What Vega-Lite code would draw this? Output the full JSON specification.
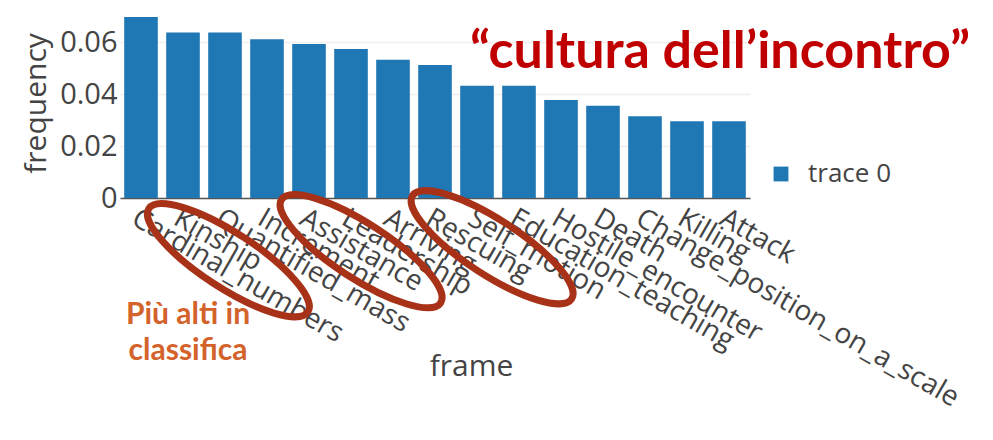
{
  "$schema": "https://vega.github.io/schema/vega-lite/v6.json",
  "width": 630,
  "height": 190,
  "autosize": {"type": "none"},
  "padding": {"left": 120, "top": 8, "right": 243, "bottom": 242},
  "background": "white",
  "config": {"font": "Open Sans", "view": {"stroke": null}},
  "datasets": {
    "bars": [
      {"frame": "Cardinal_numbers", "frequency": 0.0698, "series": "trace 0"},
      {"frame": "Kinship", "frequency": 0.0638, "series": "trace 0"},
      {"frame": "Quantified_mass", "frequency": 0.0638, "series": "trace 0"},
      {"frame": "Increment", "frequency": 0.0612, "series": "trace 0"},
      {"frame": "Assistance", "frequency": 0.0594, "series": "trace 0"},
      {"frame": "Leadership", "frequency": 0.0575, "series": "trace 0"},
      {"frame": "Arriving", "frequency": 0.0533, "series": "trace 0"},
      {"frame": "Rescuing", "frequency": 0.0513, "series": "trace 0"},
      {"frame": "Self_motion", "frequency": 0.0433, "series": "trace 0"},
      {"frame": "Education_teaching", "frequency": 0.0433, "series": "trace 0"},
      {"frame": "Hostile_encounter", "frequency": 0.0378, "series": "trace 0"},
      {"frame": "Death", "frequency": 0.0356, "series": "trace 0"},
      {"frame": "Change_position_on_a_scale", "frequency": 0.0315, "series": "trace 0"},
      {"frame": "Killing", "frequency": 0.0296, "series": "trace 0"},
      {"frame": "Attack", "frequency": 0.0296, "series": "trace 0"}
    ],
    "rings": [
      {"ring": 1, "frame": "Quantified_mass", "frequency": -0.024},
      {"ring": 2, "frame": "Leadership", "frequency": -0.0205},
      {"ring": 3, "frame": "Self_motion", "frequency": -0.019}
    ],
    "headline": [
      {"frame": "Killing", "frequency": 0.0563, "note": "“cultura dell’incontro”"}
    ],
    "side": [
      {"frame": "Kinship", "frequency": -0.0452, "note": "Più alti in\nclassifica"}
    ]
  },
  "layer": [
    {
      "data": {"name": "bars"},
      "mark": {"type": "bar"},
      "encoding": {
        "x": {
          "field": "frame",
          "type": "nominal",
          "sort": null,
          "scale": {"paddingInner": 0.2, "paddingOuter": 0.1},
          "axis": {
            "title": "frame",
            "titleFontSize": 30,
            "titleFontWeight": "normal",
            "titleColor": "#444",
            "titleX": 351,
            "titleY": 177,
            "titleBaseline": "alphabetic",
            "titleAlign": "center",
            "labelAngle": 30,
            "labelAlign": "left",
            "labelBaseline": "top",
            "labelFontSize": 28,
            "labelColor": "#444",
            "labelPadding": 6,
            "labelLimit": 600,
            "labelOverlap": false,
            "ticks": false,
            "domainColor": "#555",
            "domainWidth": 1.5
          }
        },
        "y": {
          "field": "frequency",
          "type": "quantitative",
          "scale": {"domain": [0, 0.0733], "nice": false},
          "axis": {
            "title": "frequency",
            "titleFontSize": 30,
            "titleFontWeight": "normal",
            "titleColor": "#444",
            "titlePadding": 8,
            "values": [0, 0.02, 0.04, 0.06],
            "labelExpr": "datum.value == 0 ? '0' : format(datum.value, '.2f')",
            "labelFontSize": 29,
            "labelColor": "#444",
            "labelPadding": 3,
            "ticks": false,
            "domain": false,
            "gridColor": "#eeeeee",
            "gridWidth": 1.5
          }
        },
        "color": {
          "field": "series",
          "type": "nominal",
          "scale": {"range": ["#1f77b4"]},
          "legend": {
            "title": null,
            "orient": "none",
            "legendX": 648,
            "legendY": 153,
            "symbolType": "square",
            "symbolSize": 220,
            "symbolStrokeWidth": 0,
            "labelFontSize": 26,
            "labelColor": "#444",
            "labelOffset": 14
          }
        }
      }
    },
    {
      "data": {"name": "rings"},
      "transform": [{"filter": "datum.ring == 1"}],
      "mark": {
        "type": "point",
        "shape": "M -1 0 A 1 0.29 0 1 0 1 0 A 1 0.29 0 1 0 -1 0 Z",
        "size": 36000,
        "angle": 33,
        "filled": false,
        "stroke": "#a83218",
        "strokeWidth": 7,
        "opacity": 1
      },
      "encoding": {
        "x": {"field": "frame", "type": "nominal", "sort": null, "bandPosition": 0.6},
        "y": {"field": "frequency", "type": "quantitative"}
      }
    },
    {
      "data": {"name": "rings"},
      "transform": [{"filter": "datum.ring == 2"}],
      "mark": {
        "type": "point",
        "shape": "M -1 0 A 1 0.29 0 1 0 1 0 A 1 0.29 0 1 0 -1 0 Z",
        "size": 36000,
        "angle": 33,
        "filled": false,
        "stroke": "#a83218",
        "strokeWidth": 7,
        "opacity": 1
      },
      "encoding": {
        "x": {"field": "frame", "type": "nominal", "sort": null, "bandPosition": 0.8},
        "y": {"field": "frequency", "type": "quantitative"}
      }
    },
    {
      "data": {"name": "rings"},
      "transform": [{"filter": "datum.ring == 3"}],
      "mark": {
        "type": "point",
        "shape": "M -1 0 A 1 0.29 0 1 0 1 0 A 1 0.29 0 1 0 -1 0 Z",
        "size": 36000,
        "angle": 33,
        "filled": false,
        "stroke": "#a83218",
        "strokeWidth": 7,
        "opacity": 1
      },
      "encoding": {
        "x": {"field": "frame", "type": "nominal", "sort": null, "bandPosition": 0.95},
        "y": {"field": "frequency", "type": "quantitative"}
      }
    },
    {
      "data": {"name": "headline"},
      "mark": {
        "type": "text",
        "font": "Lato",
        "fontWeight": "bold",
        "fontSize": 52,
        "color": "#c00000",
        "align": "center",
        "baseline": "middle",
        "dx": 33
      },
      "encoding": {
        "x": {"field": "frame", "type": "nominal", "sort": null},
        "y": {"field": "frequency", "type": "quantitative"},
        "text": {"field": "note"}
      }
    },
    {
      "data": {"name": "side"},
      "mark": {
        "type": "text",
        "font": "Lato",
        "fontWeight": "bold",
        "fontSize": 30,
        "lineHeight": 36,
        "lineBreak": "\n",
        "color": "#d4622b",
        "align": "center",
        "baseline": "middle",
        "dx": 5
      },
      "encoding": {
        "x": {"field": "frame", "type": "nominal", "sort": null},
        "y": {"field": "frequency", "type": "quantitative"},
        "text": {"field": "note"}
      }
    }
  ]
}
